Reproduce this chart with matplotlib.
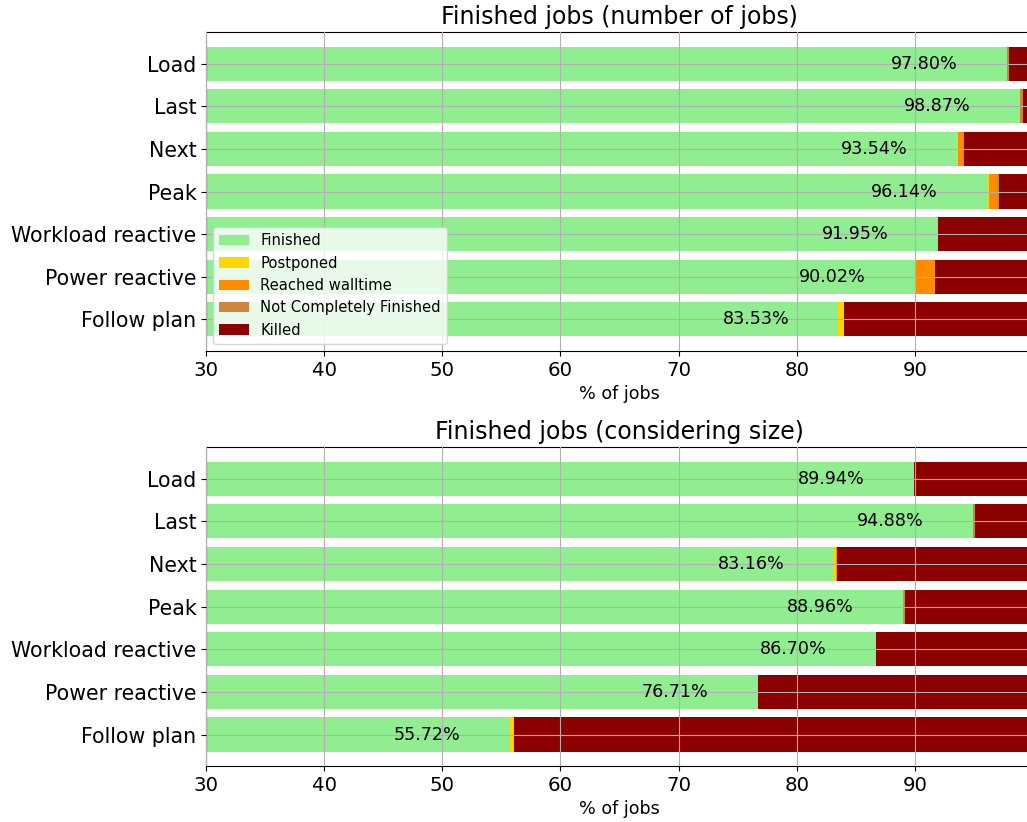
import numpy as np
import matplotlib
matplotlib.use('Agg')
import matplotlib.pyplot as plt

#---------------------- DATA
policies = ["Load", "Last", "Next", "Peak", "Workload reactive", "Power reactive", "Follow plan"]
states   = ["Finished", "Postponed", "Reached walltime", "Not Completely Finished", "Killed"]
colors   = ['lightgreen', 'gold', 'darkorange', 'peru', 'darkred']

# number of jobs
fin_n  = [97.80, 98.87, 93.54, 96.14, 91.95, 90.02, 83.53]
post_n = [0.00, 0.00, 0.10, 0.10, 0.00, 0.00, 0.50]
wall_n = [0.00, 0.00, 0.40, 0.75, 0.00, 1.70, 0.00]
ncf_n  = [0.15, 0.30, 0.10, 0.15, 0.00, 0.00, 0.00]

# considering size
fin_s  = [89.94, 94.88, 83.16, 88.96, 86.70, 76.71, 55.72]
post_s = [0.00, 0.00, 0.15, 0.00, 0.00, 0.00, 0.33]
wall_s = [0.00, 0.00, 0.08, 0.15, 0.00, 0.00, 0.00]
ncf_s  = [0.00, 0.20, 0.00, 0.05, 0.00, 0.00, 0.00]

titles = ["Finished jobs (number of jobs)", "Finished jobs (considering size)"]

#---------------------- PLOTTING
fig = plt.figure(figsize=(10.27, 8.22), dpi=100)
axes = [fig.add_axes([0.2006, 0.573, 0.8053, 0.388]),
        fig.add_axes([0.2006, 0.068, 0.8053, 0.388])]

data = [(fin_n, post_n, wall_n, ncf_n), (fin_s, post_s, wall_s, ncf_s)]

y = np.arange(len(policies))
for k, ax in enumerate(axes):
    fin, post, wall, ncf = [np.array(d) for d in data[k]]
    killed = 100 - fin - post - wall - ncf
    segs = [fin, post, wall, ncf, killed]
    left = np.zeros(len(policies))
    for s in range(len(segs)):
        ax.barh(y, segs[s], left=left, height=0.8, color=colors[s], label=states[s])
        left = left + segs[s]
    for i in range(len(policies)):
        ax.text(fin[i] - 7, y[i], "%.2f%%" % fin[i], ha='center', va='center', fontsize=12.6)
    ax.set_yticks(y)
    ax.set_yticklabels(policies, fontsize=14.8)
    ax.invert_yaxis()
    ax.set_xlim(30, 100)
    ax.set_xticks([30, 40, 50, 60, 70, 80, 90])
    ax.tick_params(axis='x', labelsize=14.2)
    ax.set_xlabel("% of jobs", fontsize=12.6)
    ax.set_title(titles[k], fontsize=17)
    ax.set_axisbelow(False)
    ax.grid(True, color='#b0b0b0')
    if k == 0:
        ax.legend(loc='lower left', fontsize=10.6)

plt.savefig('out.png', dpi=100)
